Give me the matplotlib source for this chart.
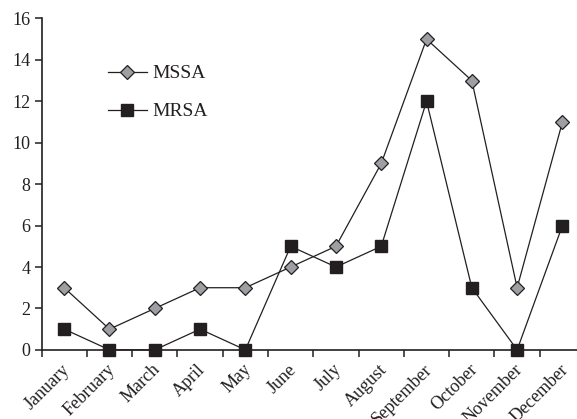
import matplotlib
matplotlib.use("Agg")
from matplotlib import pyplot as plt
from matplotlib import transforms
import numpy as np

months = ["January", "February", "March", "April", "May", "June", "July",
          "August", "September", "October", "November", "December"]
mssa = [3, 1, 2, 3, 3, 4, 5, 9, 15, 13, 3, 11]
mrsa = [1, 0, 0, 1, 0, 5, 4, 5, 12, 3, 0, 6]

plt.rcParams["font.family"] = ["Liberation Serif", "DejaVu Serif"]
ink = "#231f20"

fig = plt.figure(figsize=(5.77, 4.19), dpi=100)
ax = fig.add_axes([0.072, 0.165, 0.942, 0.791])

x = np.arange(len(months))
ax.plot(x, mssa, color=ink, lw=0.9, marker="D", ms=7.5, mfc="#9d9fa2",
        mec=ink, mew=0.9, label="MSSA", clip_on=False, zorder=3)
ax.plot(x, mrsa, color=ink, lw=0.9, marker="s", ms=8.5, mfc=ink,
        mec=ink, label="MRSA", clip_on=False, zorder=3)

ax.set_xlim(-0.5, 11.5)
ax.set_ylim(0, 16)
ax.set_yticks(range(0, 17, 2))
ax.set_xticks(x)
ax.set_xticklabels(months, rotation=45, ha="right", va="top",
                   rotation_mode="anchor")
ax.set_xticks(np.arange(-0.5, 12, 1), minor=True)
ax.tick_params(axis="x", which="major", length=0, pad=8, labelsize=13,
               labelcolor=ink)
ax.tick_params(axis="x", which="minor", length=5, width=1.1, color=ink,
               direction="out")
ax.tick_params(axis="y", length=5, width=1.1, color=ink, labelsize=13,
               labelcolor=ink, pad=3)

# nudge the month labels a little to the left
shift = transforms.ScaledTranslation(-3 / 100, 0, fig.dpi_scale_trans)
for lbl in ax.get_xticklabels():
    lbl.set_transform(lbl.get_transform() + shift)

for s in ["top", "right"]:
    ax.spines[s].set_visible(False)
for s in ["left", "bottom"]:
    ax.spines[s].set_linewidth(1.2)
    ax.spines[s].set_color(ink)

ax.legend(loc="upper left", bbox_to_anchor=(0.122, 0.86), frameon=False,
          fontsize=14, handlelength=2.0, labelspacing=1.05, handletextpad=0.3,
          borderpad=0, borderaxespad=0, labelcolor=ink)

fig.savefig("out.png", dpi=100)
